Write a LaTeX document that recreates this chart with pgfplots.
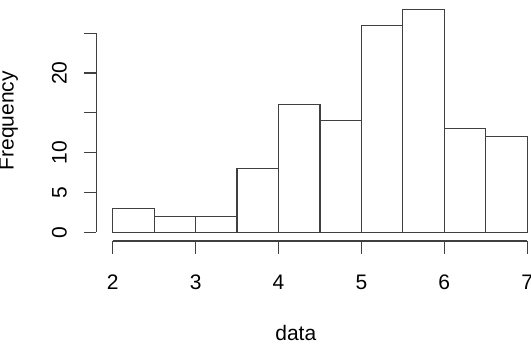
\documentclass[border=0pt]{standalone}
\usepackage{fontspec}
\setmainfont{Liberation Sans}
\usepackage{pgfplots}
\pgfplotsset{compat=1.18}
\begin{document}
\fontsize{10.5}{12.6}\selectfont
\begin{tikzpicture}
\begin{axis}[
  scale only axis, width=223.9pt, height=120.35pt,
  xmin=1.8, xmax=7.2, ymin=-1.12, ymax=29.12,
  axis x line*=bottom, axis y line*=left,
  axis line style={draw=none},
  clip=false,
  xtick={2,3,4,5,6,7}, ytick={0,5,10,15,20,25},
  yticklabels={0,5,10,,20,},
  tick align=outside, major tick length=6.3pt,
  tick style={black!75, line width=0.6pt},
  /pgf/number format/assume math mode=true,
  xticklabel style={anchor=base, font=\fontsize{10.5}{12.6}\selectfont},
  xticklabel shift=18pt,
  yticklabel style={rotate=90, anchor=base, font=\fontsize{10.5}{12.6}\selectfont},
  yticklabel shift=8.5pt,
  every axis x label/.style={at={(axis description cs:0.446,-0.4134)}, anchor=base},
  every axis y label/.style={at={(axis description cs:-0.1845,0.5)}, rotate=90, anchor=base},
  xlabel={data}, ylabel={Frequency},
]
\addplot[ybar interval, fill=white, draw=black!75, line width=0.6pt]
  coordinates {(2,3) (2.5,2) (3,2) (3.5,8) (4,16) (4.5,14) (5,26) (5.5,28) (6,13) (6.5,12) (7,12)};
\draw[black!75, line width=0.6pt] (axis cs:2,-1.12) -- (axis cs:7,-1.12);
\draw[black!75, line width=0.6pt] (axis cs:1.8,0) -- (axis cs:1.8,25);
\coordinate (bl) at (axis cs:0.6405,-14.66);
\coordinate (tr) at (axis cs:7.046,29.18);
\end{axis}
\pgfresetboundingbox
\useasboundingbox (bl) rectangle (tr);
\end{tikzpicture}
\end{document}
